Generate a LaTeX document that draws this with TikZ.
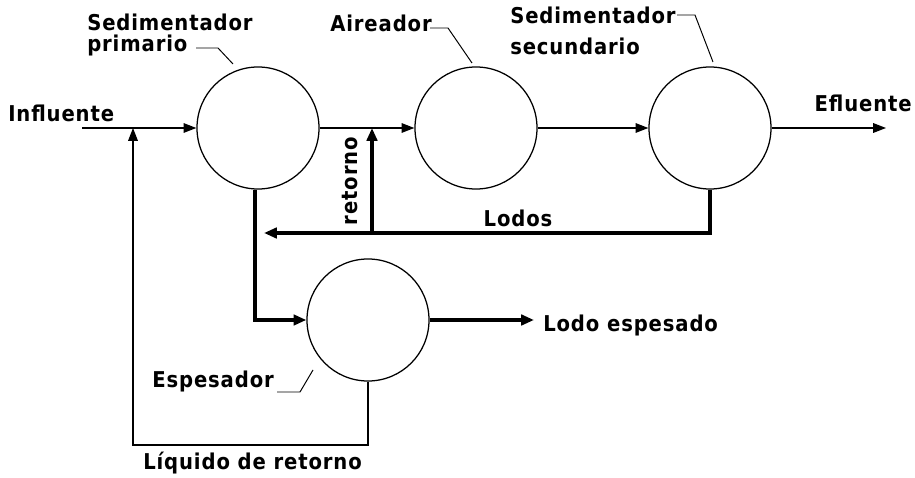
\documentclass[tikz,border=0pt]{standalone}
\usepackage{fontspec}
\usepackage{tikz}
\usetikzlibrary{arrows.meta}
\newfontfamily\diagfont[LetterSpace=4, FakeStretch=0.9]{DejaVu Sans}

\begin{document}
\begin{tikzpicture}[x=0.025cm, y=-0.025cm,
	tank/.style={circle, draw, line width=0.9pt, minimum size=3.05cm, inner sep=0pt},
	lbl/.style={font=\diagfont\fontsize{15.5}{16.5}\selectfont\bfseries, inner sep=0pt},
	flow/.style={line width=0.9pt, -{Triangle[length=3.2mm, width=2.4mm]}},
	sludge/.style={line width=2.6pt, -{Triangle[length=3.2mm, width=2.6mm]}},
	lead/.style={line width=0.7pt}]
			\useasboundingbox (0,0) rectangle (915,478);
			\node[tank] (prim) at (258,128) {};
			\node[tank] (air) at (476,128) {};
			\node[tank] (sec) at (710,128) {};
			\node[tank] (esp) at (368,320) {};
			\coordinate (In) at (82,128);
			\coordinate (J1) at (133,128);
			\coordinate (J2) at (372,128);
			\coordinate (Out) at (886,128);
			\coordinate (R) at (372,233);
			\coordinate (L) at (264,233);
			\coordinate (D) at (255,320);
			\coordinate (B) at (133,445);
			\coordinate (LE) at (534,320);
			\draw[flow] (In) -- (prim.west);
			\draw[flow] (prim.east) -- (air.west);
			\draw[flow] (air.east) -- (sec.west);
			\draw[flow] (sec.east) -- (Out);
			\draw[sludge] (sec.south) -- (sec.south |- R) -- (L);
			\draw[sludge] (R) -- (J2);
			\draw[sludge] (prim.south -| D) -- (D) -- (esp.west);
			\draw[sludge] (esp.east) -- (LE);
			\draw[flow] (esp.south) -- (esp.south |- B) -- (B) -- (J1);
			\node[lbl, anchor=north west, align=left] (tprim) at (87,14) {Sedimentador\\[-1.5pt]primario};
			\node[lbl, anchor=base west] (tair) at (330,32) {Aireador};
			\node[lbl, anchor=north west, align=left] (tsec) at (510,7) {Sedimentador\\[5pt]secundario};
			\node[lbl, anchor=base west] (tin) at (8,122) {Influente};
			\node[lbl, anchor=base east] (tout) at (912,112) {Efluente};
			\node[lbl, rotate=90] (tret) at (350,181) {retorno};
			\node[lbl, anchor=base] (tlod) at (518,227) {Lodos};
			\node[lbl, anchor=base west] (tle) at (543,332) {Lodo espesado};
			\node[lbl, anchor=base west] (tesp) at (152,388) {Espesador};
			\node[lbl, anchor=base west] (tliq) at (143,470) {Líquido de retorno};
			\draw[lead] (196,48) -- (218,48) -- (233,64);
			\draw[lead] (430,28) -- (448,28) -- (472,63);
			\draw[lead] (677,15) -- (695,15) -- (713,62);
			\draw[lead] (277,392) -- (300,392) -- (313,370);
		\end{tikzpicture}
\end{document}
